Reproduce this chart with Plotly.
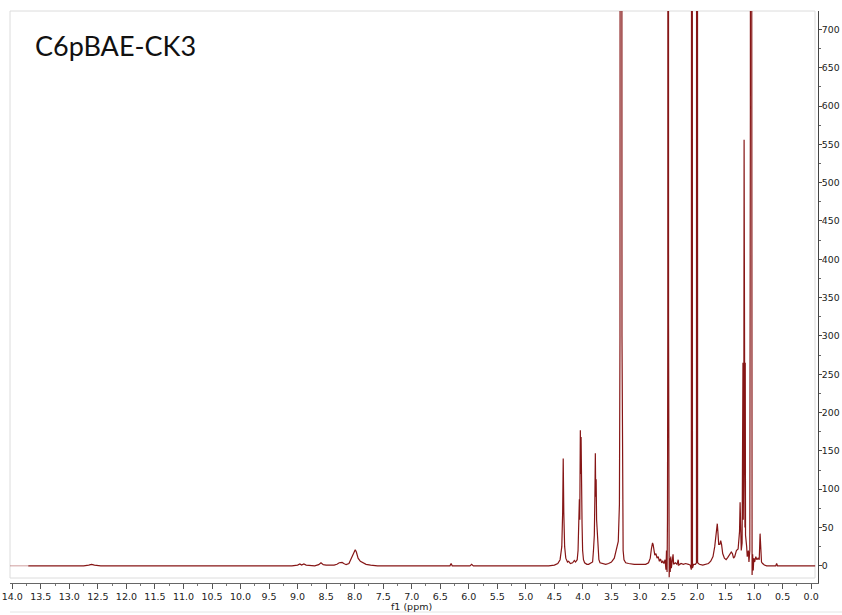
import plotly.graph_objects as go

# ---- spectrum values (ppm, intensity) ----
ppm_low_field = [13.72, 12.75, 12.66, 12.61, 12.56, 12.45, 9.10, 9.00, 8.96, 8.93, 8.89, 8.85,
                 8.70, 8.63, 8.59, 8.55, 8.50, 8.45, 8.41, 8.36, 8.31, 8.27, 8.25, 8.22, 8.19,
                 8.15, 8.10, 8.06, 8.02, 7.99, 7.97, 7.94, 7.90, 7.86, 7.80, 7.72, 7.60,
                 6.40, 6.33, 6.31, 6.29, 5.98, 5.95, 5.92, 4.60]
int_low_field = [0, 0, 1, 2, 1, 0, 0, 1, 2.5, 1, 2.5, 1,
                 0, 1.5, 4, 1.5, 1, 1.5, 1, 1, 2, 4, 4.5, 4.5, 3,
                 1.5, 3, 9, 16, 21, 18, 10, 6, 4, 2, 1, 0,
                 0, 0, 3, 0, 0, 2, 0, 0]

ppm_mid = [4.50, 4.44, 4.40, 4.37, 4.355, 4.345, 4.335, 4.32, 4.30, 4.27, 4.25, 4.22, 4.18,
           4.15, 4.13, 4.10, 4.085, 4.07, 4.062, 4.055, 4.045, 4.04, 4.032, 4.025, 4.015,
           4.005, 3.99, 3.97, 3.93, 3.90, 3.87, 3.83, 3.815, 3.80, 3.79, 3.782, 3.775,
           3.768, 3.76, 3.75, 3.74, 3.72, 3.70, 3.65, 3.60, 3.55, 3.50, 3.45, 3.42, 3.40,
           3.38, 3.36, 3.35, 3.34, 3.325, 3.315, 3.305, 3.295, 3.28, 3.25, 3.20, 3.10,
           3.00, 2.90, 2.85, 2.82, 2.80, 2.78, 2.77, 2.755, 2.74, 2.72, 2.70, 2.68, 2.66,
           2.64, 2.62, 2.60, 2.58, 2.56, 2.545, 2.535, 2.525, 2.518, 2.512, 2.507, 2.503,
           2.499, 2.494, 2.488, 2.48, 2.47, 2.46, 2.45, 2.43, 2.42, 2.41, 2.38, 2.35, 2.33,
           2.32, 2.28, 2.24, 2.20, 2.15, 2.12, 2.10, 2.095, 2.088, 2.08, 2.06, 2.03, 2.01,
           2.003, 1.996, 1.99, 1.96, 1.90]
int_mid = [1, 3, 8, 25, 70, 140, 70, 25, 10, 5, 6, 3, 4,
           7, 5, 8, 20, 55, 87, 60, 177, 120, 168, 80, 55,
           20, 8, 4, 2, 2, 3, 5, 20, 40, 90, 147, 90,
           113, 60, 43, 20, 8, 4, 3, 2, 3, 5, 10, 18, 25,
           32, 80, 300, 3000, 3000, 300, 60, 20, 8, 4, 3, 2,
           2, 2, 4, 10, 22, 30, 28, 18, 14, 16, 10, 12, 6,
           9, 4, 6, 3, 8, -5, 20, -8, 60, 315, 3000, 3000,
           315, 60, -15, 10, -8, 12, -3, 8, 15, 2, 4, 2, 8,
           1, 3, 2, 3, 2, 1, -5, 3000, 3000, -3, 2, 2, 4,
           3000, 3000, 4, 2, 1]

ppm_aliphatic = [1.85, 1.80, 1.76, 1.72, 1.69, 1.665, 1.645, 1.635, 1.62, 1.60, 1.585, 1.57,
                 1.55, 1.52, 1.49, 1.46, 1.43, 1.40, 1.38, 1.36, 1.34, 1.31, 1.28, 1.255,
                 1.245, 1.238, 1.225, 1.21, 1.195, 1.19, 1.18, 1.175, 1.17, 1.16, 1.155, 1.15,
                 1.13, 1.12, 1.10, 1.09, 1.075, 1.065, 1.058, 1.052, 1.045, 1.035, 1.025,
                 1.015, 1.005, 0.99, 0.97, 0.95, 0.93, 0.91, 0.895, 0.885, 0.87, 0.85, 0.82,
                 0.78, 0.70, 0.62, 0.605, 0.59, 0.40, 0.20, -0.07]
int_aliphatic = [2, 3, 6, 12, 25, 40, 55, 45, 28, 28, 33, 28,
                 16, 10, 8, 11, 15, 18, 16, 10, 12, 20, 22, 45,
                 83, 40, 20, 30, 265, 60, 150, 556, 150, 50, 265, 40,
                 25, 12, 20, 5, 20, 600, 3000, 3000, 600, -12, 15,
                 -6, 10, 5, 12, 8, 10, 8, 42, 12, 5, 3, 1,
                 0, 0, 0, 3, 0, 0, 0, 0]

ppm_edge = [14.04, 13.72]
int_edge = [0, 0]

x_ticks = [i * 0.5 for i in range(29)]
y_ticks = list(range(0, 701, 50))

ppm = ppm_low_field + ppm_mid + ppm_aliphatic
intensity = int_low_field + int_mid + int_aliphatic

LINE = "#861616"

fig = go.Figure()
fig.add_trace(go.Scatter(x=ppm_edge, y=int_edge, mode="lines",
                         line=dict(color="rgba(170,80,80,0.55)", width=1),
                         hoverinfo="skip", showlegend=False))
fig.add_trace(go.Scatter(x=ppm, y=intensity, mode="lines",
                         line=dict(color=LINE, width=1.2),
                         showlegend=False))

W, H = 842, 615
ml, mr, mt, mb = 10, 24, 11, 32
pw, ph = W - ml - mr, H - mt - mb

fig.update_layout(
    width=W, height=H,
    margin=dict(l=ml, r=mr, t=mt, b=mb, autoexpand=False),
    paper_bgcolor="white", plot_bgcolor="white",
    font=dict(family="DejaVu Sans", size=9.5, color="#222"),
    xaxis=dict(range=[14.04, -0.12], tickvals=x_ticks, automargin=False,
               ticktext=[f"{v:.1f}" for v in x_ticks],
               showgrid=False, zeroline=False, showline=True, linecolor="#666",
               linewidth=1, ticks="outside", ticklen=5, tickcolor="#555",
               minor=dict(dtick=0.25, tick0=0, ticks="outside", ticklen=2, tickcolor="#777"),
               tickfont=dict(family="DejaVu Sans", size=9.5, color="#222")),
    yaxis=dict(range=[-22.4, 724], side="right", tickvals=y_ticks, automargin=False,
               showgrid=False, zeroline=False, showline=True, linecolor="#444",
               linewidth=1, ticks="outside", ticklen=3, tickcolor="#444",
               ticklabelstandoff=-2,
               minor=dict(dtick=25, tick0=0, ticks="outside", ticklen=2, tickcolor="#666"),
               tickfont=dict(family="DejaVu Sans", size=9.3, color="#222")),
    shapes=[
        dict(type="rect", xref="paper", yref="paper",
             x0=0, x1=(815 - ml) / pw, y0=(583 - 578) / ph, y1=1,
             line=dict(color="#dcdcdc", width=1), layer="below"),
        dict(type="line", xref="paper", yref="paper",
             x0=0, x1=(842 - ml) / pw, y0=(583 - 612) / ph, y1=(583 - 612) / ph,
             line=dict(color="#e4e4e4", width=1)),
    ],
    annotations=[
        dict(text="C6pBAE-CK3", xref="paper", yref="paper",
             x=(33 - ml) / pw, y=(583 - 45) / ph, xanchor="left", yanchor="middle",
             showarrow=False, font=dict(family="Lato", size=27, color="#111")),
        dict(text="f1 (ppm)", xref="paper", yref="paper",
             x=(411 - ml) / pw, y=(583 - 606) / ph, xanchor="center", yanchor="middle",
             showarrow=False, font=dict(family="DejaVu Sans", size=9.5, color="#222")),
    ],
)

fig.write_html("out.html", config={"displayModeBar": False},
               post_script="document.body.style.margin='0';")
